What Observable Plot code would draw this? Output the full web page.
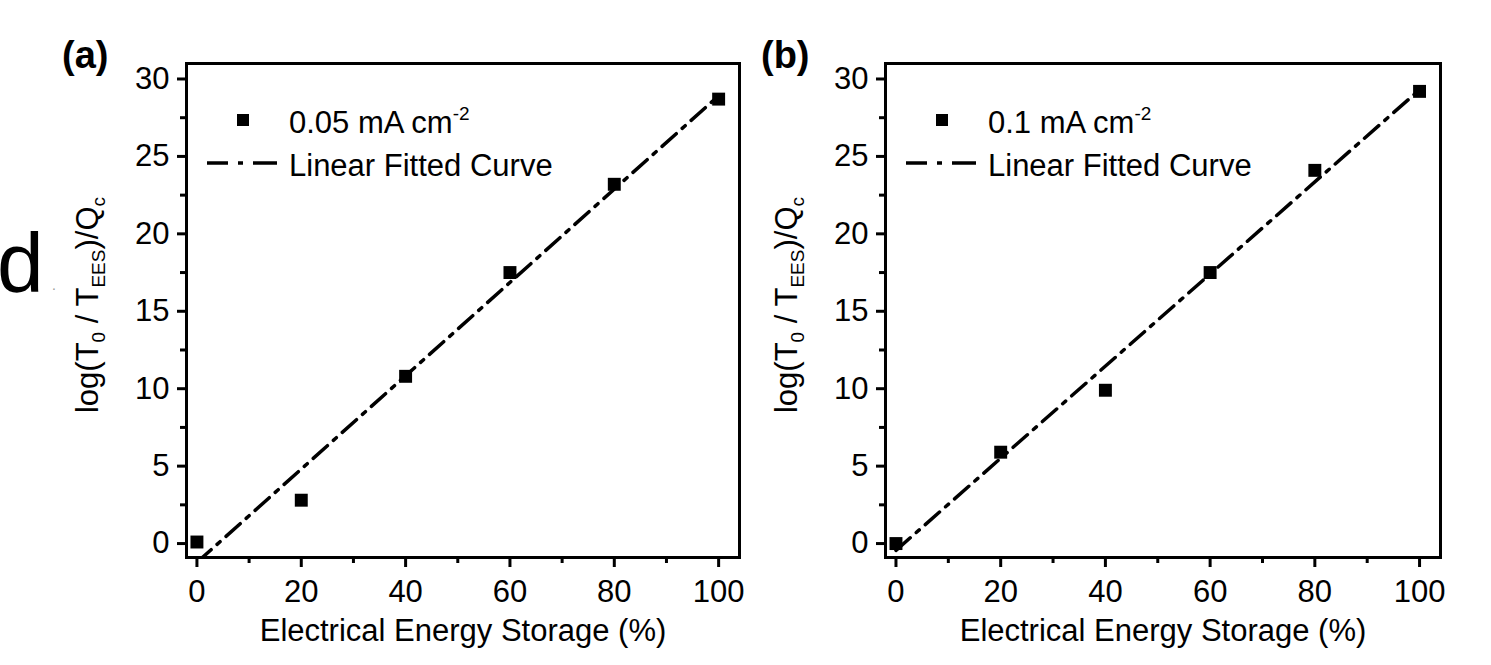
<!DOCTYPE html>
<html><head><meta charset="utf-8">
<script src="https://cdn.jsdelivr.net/npm/d3@7"></script>
<script src="https://cdn.jsdelivr.net/npm/@observablehq/plot@0.6"></script>
<style>
body{margin:0;background:#fff;}
#wrap{position:relative;width:1491px;height:665px;overflow:hidden;background:#fff;font-family:"Liberation Sans",Arial,sans-serif;}
#wrap svg{position:absolute;top:0;}
</style></head><body><div id="wrap"></div>
<script>
// ---- data ----
const storage = [0, 20, 40, 60, 80, 100];
const valuesA = [0.1, 2.8, 10.8, 17.5, 23.2, 28.7];
const valuesB = [0.0, 5.9, 9.9, 17.5, 24.1, 29.2];
const xTicks = [0, 20, 40, 60, 80, 100];
const xMinorTicks = [10, 30, 50, 70, 90];
const yTicks = [0, 5, 10, 15, 20, 25, 30];
const yMinorTicks = [2.5, 7.5, 12.5, 17.5, 22.5, 27.5];
const xDomain = [-2, 104];
const yDomain = [-0.9, 31];
const xTitle = "Electrical Energy Storage (%)";
const fitLabel = "Linear Fitted Curve";
const panelTags = ["(a)", "(b)"];
const currents = ["0.05", "0.1"];

const FONT = '"Liberation Sans", Arial, sans-serif';
const layout = [
  {left: 0, width: 745, ml: 186, mr: 6},
  {left: 745, width: 746, ml: 140, mr: 51}
];
const seriesValues = [valuesA, valuesB];
const wrap = document.getElementById("wrap");

layout.forEach((p, k) => {
  const data = storage.map((x, i) => ({x, y: seriesValues[k][i]}));
  const chart = Plot.plot({
    width: p.width, height: 665,
    marginLeft: p.ml, marginRight: p.mr, marginTop: 63, marginBottom: 108,
    style: {fontFamily: FONT, fontSize: "31px", color: "#000", background: "transparent", overflow: "visible"},
    x: {domain: xDomain},
    y: {domain: yDomain},
    marks: [
      Plot.linearRegressionY(data, {x: "x", y: "y", ci: 0, stroke: "#000", strokeWidth: 3.5, strokeDasharray: "19,8,4,8", clip: true}),
      Plot.dot(data, {x: "x", y: "y", symbol: "square", r: 7.3, fill: "#000", stroke: null}),
      Plot.axisX({ticks: xTicks, tickSize: 10, tickPadding: 12, strokeWidth: 3, fontSize: 31, label: null}),
      Plot.axisX({ticks: xMinorTicks, tickSize: 6, strokeWidth: 3, tickFormat: () => "", label: null}),
      Plot.axisY({ticks: yTicks, tickSize: 9, tickPadding: 8, strokeWidth: 3, fontSize: 31, label: null}),
      Plot.axisY({ticks: yMinorTicks, tickSize: 6, strokeWidth: 3, tickFormat: () => "", label: null}),
      Plot.frame({stroke: "#000", strokeWidth: 3}),
      Plot.text([xTitle], {frameAnchor: "bottom", dy: 83, fontSize: 31, fill: "#000"})
    ]
  });
  chart.style.left = p.left + "px";
  wrap.appendChild(chart);
  const svg = d3.select(chart);
  const fl = p.ml;

  // panel tag
  svg.append("text").attr("x", fl - 124).attr("y", 68).attr("text-anchor", "start")
    .attr("font-size", 38).attr("font-weight", "bold").attr("font-family", FONT)
    .attr("fill", "#000").text(panelTags[k]);

  // y title with subscripts
  const t = svg.append("text")
    .attr("transform", `translate(${fl - 88},305) rotate(-90)`)
    .attr("text-anchor", "middle").attr("font-size", 31).attr("font-family", FONT).attr("fill", "#000");
  t.append("tspan").text("log(T");
  t.append("tspan").attr("font-size", 19).attr("dy", 7).text("0");
  t.append("tspan").attr("dy", -7).text(" / T");
  t.append("tspan").attr("font-size", 19).attr("dy", 7).text("EES");
  t.append("tspan").attr("dy", -7).text(")/Q");
  t.append("tspan").attr("font-size", 19).attr("dy", 7).text("c");

  // legend
  svg.append("rect").attr("x", fl + 51).attr("y", 114).attr("width", 12).attr("height", 12).attr("fill", "#000");
  const lt = svg.append("text").attr("x", fl + 103).attr("y", 133).attr("text-anchor", "start")
    .attr("font-size", 31).attr("font-family", FONT).attr("fill", "#000");
  lt.append("tspan").text(currents[k] + " mA cm");
  lt.append("tspan").attr("font-size", 19).attr("dy", -13).text("-2");
  svg.append("line").attr("x1", fl + 21).attr("x2", fl + 95).attr("y1", 163).attr("y2", 163)
    .attr("stroke", "#000").attr("stroke-width", 3.5).attr("stroke-dasharray", "21,10,5,10,24");
  svg.append("text").attr("x", fl + 103).attr("y", 176).attr("text-anchor", "start")
    .attr("font-size", 31).attr("font-family", FONT).attr("fill", "#000").text(fitLabel);

  if (k === 0) {
    svg.append("text").attr("x", -3).attr("y", 292).attr("text-anchor", "start").attr("font-size", 84)
      .attr("font-family", FONT).attr("fill", "#000").text("d");
    svg.append("text").attr("x", 52).attr("y", 290).attr("text-anchor", "start").attr("font-size", 14)
      .attr("font-family", FONT).attr("fill", "#999").text(".");
  }
});
</script>
</body></html>
